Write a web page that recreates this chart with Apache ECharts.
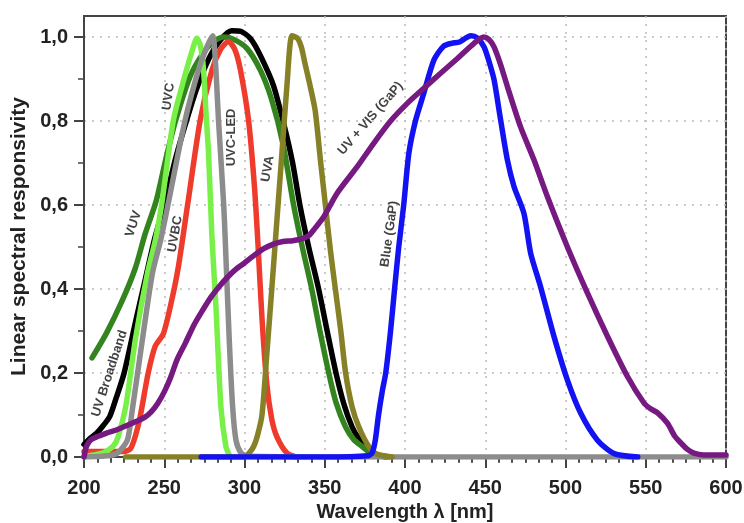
<!DOCTYPE html>
<html>
<head>
<meta charset="utf-8">
<script src="https://cdn.jsdelivr.net/npm/echarts@6/dist/echarts.min.js"></script>
<style>
html,body{margin:0;padding:0;background:#fff;}
#chart{width:744px;height:523px;}
</style>
</head>
<body>
<div id="chart"></div>
<script>
// ---- data (wavelength nm, linear responsivity) ----
const uvBroadband = [[200,0.03],[204,0.045],[208,0.057],[212,0.075],[216,0.096],[220,0.14],[225,0.2],[232,0.32],[238,0.42],[244,0.52],[250,0.6],[257,0.71],[263,0.79],[270,0.875],[278,0.95],[285,0.993],[292,1.015],[298,1.013],[304,0.995],[310,0.955],[318,0.885],[325,0.785],[330,0.7],[334.5,0.6],[340,0.5],[346.2,0.4],[351.5,0.3],[357,0.2],[362,0.125],[367,0.072],[371,0.045],[375.4,0.025],[379.5,0.008],[388,0]];
const vuv = [[205,0.236],[214,0.295],[224,0.374],[232,0.45],[238,0.53],[245,0.61],[251,0.71],[257,0.8],[266,0.905],[274,0.96],[281,0.99],[287,1.0],[293,0.995],[301.5,0.973],[310,0.92],[317,0.85],[324,0.745],[330.6,0.6],[336,0.5],[341.9,0.4],[347,0.3],[352.5,0.2],[357,0.13],[362.9,0.072],[368,0.042],[373.3,0.025],[379.5,0.008],[390,0]];
const uvbc = [[200,0.013],[225,0.013],[229,0.02],[232,0.05],[235,0.096],[240,0.2],[244.3,0.263],[249.5,0.294],[254.7,0.374],[258.8,0.453],[265,0.612],[272.4,0.802],[279.7,0.921],[285,0.97],[290,0.989],[294,0.97],[297.5,0.921],[302.5,0.802],[306.2,0.644],[308.5,0.5],[310.9,0.33],[314,0.17],[317,0.09],[320.2,0.048],[326.5,0.009],[332,0]];
const uvc = [[203,0.003],[212,0.01],[218,0.025],[221,0.045],[226,0.12],[232,0.28],[239.5,0.437],[244.5,0.517],[248.5,0.604],[255.7,0.802],[263,0.91],[268,0.975],[270.3,0.997],[272.5,0.98],[274.5,0.921],[276,0.82],[277.6,0.723],[279.7,0.525],[282.2,0.358],[285.3,0.12],[288.4,0.025],[290.5,0.005]];
const uvcLed = [[200,0],[215,0.003],[221,0.01],[227,0.04],[230,0.11],[236.4,0.28],[242.6,0.437],[247.8,0.517],[252.5,0.604],[263,0.802],[272,0.93],[277,0.98],[280.2,1.003],[281.2,0.98],[282.5,0.9],[283.8,0.802],[287,0.604],[288,0.517],[290.5,0.279],[292.6,0.12],[294.7,0.04],[297.8,0.01],[302,0.002],[400,0],[600,0]];
const uva = [[226,0],[300,0],[303,0.01],[305.7,0.025],[308,0.05],[310.9,0.1],[314,0.25],[317.1,0.405],[320.2,0.564],[323.3,0.723],[326.4,0.882],[329.6,1.003],[333,0.997],[335.5,0.975],[337.5,0.94],[340.5,0.89],[344,0.826],[347.3,0.707],[350.4,0.6],[353.5,0.493],[356.6,0.4],[360,0.3],[363,0.2],[367,0.12],[371.2,0.072],[377.4,0.025],[382,0.008],[392,0]];
const blueGaP = [[273,0],[300,0],[350,0],[377,0.003],[379.5,0.01],[381.5,0.04],[383.5,0.1],[386,0.16],[388,0.2],[391,0.3],[393.5,0.4],[396.1,0.5],[399.2,0.6],[402.4,0.723],[406.5,0.8],[411.7,0.866],[418,0.945],[424,0.978],[429,0.985],[434,0.988],[438,0.998],[441,1.003],[445,0.998],[449.2,0.977],[452.5,0.94],[455.5,0.898],[459.6,0.802],[463.8,0.707],[467.9,0.644],[474.1,0.58],[478.3,0.485],[484.5,0.405],[492.9,0.286],[501.2,0.183],[509.5,0.104],[519.9,0.04],[530.3,0.008],[545,0]];
const uvVisGaP = [[200,0],[201.5,0.025],[204,0.04],[208,0.048],[214,0.057],[220.5,0.065],[231,0.082],[238,0.095],[242,0.108],[246,0.128],[250,0.155],[254,0.19],[258,0.232],[263,0.27],[268.6,0.315],[274,0.35],[279,0.38],[284,0.405],[289.4,0.428],[294,0.445],[300,0.462],[306,0.48],[312,0.496],[318,0.507],[324,0.513],[330,0.515],[336,0.52],[340,0.527],[344,0.545],[349.4,0.572],[357.7,0.628],[370,0.69],[380.5,0.747],[391,0.8],[401.4,0.842],[411.7,0.878],[422,0.913],[433,0.95],[443,0.985],[449,1.0],[452,0.995],[455.4,0.977],[459.5,0.935],[463.8,0.882],[472,0.786],[480.4,0.707],[488.7,0.62],[501.2,0.5],[513.7,0.39],[526.2,0.287],[538.7,0.191],[549,0.128],[553,0.115],[557.4,0.105],[563.6,0.08],[568,0.05],[572,0.033],[576,0.018],[580,0.009],[586,0.005],[600,0.005]];

const yMajorTicks = [0, 0.2, 0.4, 0.6, 0.8, 1.0];
const yMinorTicks = [0.1, 0.3, 0.5, 0.7, 0.9];

const labelNames = ['UV Broadband','VUV','UVBC','UVC','UVC-LED','UVA','UV + VIS (GaP)','Blue (GaP)'];
const labelPos = [[215.9,0.199],[230.9,0.555],[256.8,0.531],[252.7,0.858],[292,0.761],[314.5,0.686],[378.5,0.806],[390.3,0.531]];
const labelAngles = [72,72,80,82,90,80,49,82];

// ---- chart ----
const FONT = '"Liberation Sans", Arial, Helvetica, sans-serif';
const chart = echarts.init(document.getElementById('chart'), null, {renderer: 'canvas'});

function lineSeries(name, data, color) {
  return {
    name: name, type: 'line', data: data, showSymbol: false, smooth: 0.25,
    lineStyle: {color: color, width: 5.5, cap: 'round', join: 'round'},
    itemStyle: {color: color}, silent: true, animation: false
  };
}

const axisColor = '#444';
const gridDots = {show: true, lineStyle: {color: '#bbbbbb', width: 1.5, type: [2, 6]}};

chart.setOption({
  animation: false,
  backgroundColor: '#ffffff',
  grid: {left: 84, right: 18, top: 16, bottom: 66, containLabel: false, outerBoundsMode: 'none',
    show: true, borderColor: axisColor, borderWidth: 2, backgroundColor: 'transparent'},
  xAxis: [
    {
      type: 'value', min: 200, max: 600, interval: 50, position: 'bottom',
      axisLine: {show: true, lineStyle: {color: axisColor, width: 2}},
      axisTick: {show: true, length: 8, lineStyle: {color: axisColor, width: 2}},
      minorTick: {show: true, splitNumber: 6, length: 5, lineStyle: {color: axisColor, width: 1.5}},
      axisLabel: {fontSize: 20, fontWeight: 'bold', color: '#222', margin: 21, fontFamily: FONT},
      splitLine: gridDots,
      name: 'Wavelength λ [nm]', nameLocation: 'middle', nameGap: 45,
      nameTextStyle: {fontSize: 20, fontWeight: 'bold', color: '#222', fontFamily: FONT}
    },
    {
      type: 'value', min: 200, max: 600, interval: 50, position: 'top',
      axisLine: {show: true, lineStyle: {color: axisColor, width: 2}},
      axisTick: {show: true, inside: true, length: 11, lineStyle: {color: axisColor, width: 2}},
      minorTick: {show: true, splitNumber: 6, length: 6, lineStyle: {color: axisColor, width: 1.5}},
      axisLabel: {show: false},
      splitLine: {show: false}
    }
  ],
  yAxis: [
    {
      type: 'value', min: 0, max: 1.05, interval: 0.2, position: 'left',
      axisLine: {show: true, lineStyle: {color: axisColor, width: 2}},
      axisTick: {show: true, length: 10, customValues: yMajorTicks, lineStyle: {color: axisColor, width: 2}},
      axisLabel: {customValues: yMajorTicks, fontSize: 20, fontWeight: 'bold', color: '#222', margin: 16, fontFamily: FONT,
        formatter: function (v) { return (Math.round(v * 10) / 10).toFixed(1).replace('.', ','); }},
      splitLine: gridDots,
      name: 'Linear spectral responsivity', nameLocation: 'middle', nameGap: 54,
      nameTextStyle: {fontSize: 21, fontWeight: 'bold', color: '#222', fontFamily: FONT}
    },
    {
      type: 'value', min: 0, max: 1.05, position: 'left',
      axisLine: {show: false},
      axisTick: {show: true, length: 6, customValues: yMinorTicks, lineStyle: {color: axisColor, width: 1.5}},
      axisLabel: {show: false},
      splitLine: {show: false}
    }
  ],
  series: [
    lineSeries('UV Broadband', uvBroadband, '#000000'),
    lineSeries('VUV', vuv, '#33831f'),
    lineSeries('UVBC', uvbc, '#ef3b2c'),
    lineSeries('UVC', uvc, '#78f048'),
    lineSeries('UVC-LED', uvcLed, '#8c8c8c'),
    lineSeries('UVA', uva, '#868027'),
    lineSeries('Blue (GaP)', blueGaP, '#1212f2'),
    lineSeries('UV + VIS (GaP)', uvVisGaP, '#761a82'),
    {
      type: 'scatter', symbolSize: 0, silent: true, z: 10,
      data: labelNames.map(function (n, i) {
        return {value: labelPos[i], label: {formatter: n, rotate: labelAngles[i]}};
      }),
      label: {show: true, position: 'inside', color: '#111', fontSize: 13, fontWeight: 'bold', fontFamily: FONT,
        align: 'center', verticalAlign: 'middle'}
    }
  ]
});
</script>
</body>
</html>
